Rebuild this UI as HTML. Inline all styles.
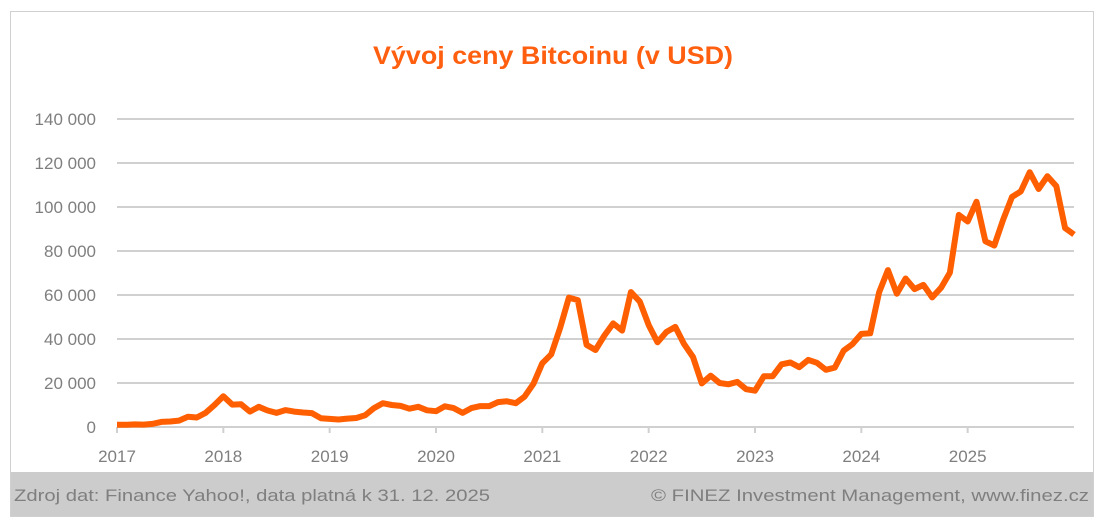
<!DOCTYPE html>
<html><head><meta charset="utf-8"><style>
html,body{margin:0;padding:0;background:#fff;}
svg{display:block;}
</style></head><body>
<svg id="s" width="1107" height="527" xmlns="http://www.w3.org/2000/svg" font-family="Liberation Sans, sans-serif">
<rect x="10.5" y="11.5" width="1083" height="505" fill="#fff" stroke="#d0d0d0"/>
<rect x="11" y="472" width="1082" height="44" fill="#cccccc"/>
<text x="553" y="64" text-anchor="middle" font-size="25" font-weight="bold" fill="#ff5f0f" textLength="360" lengthAdjust="spacingAndGlyphs">Vývoj ceny Bitcoinu (v USD)</text>
<g id="grid" stroke="#d0d0d0" stroke-width="2"></g>
<g id="yl" font-size="17" fill="#7f7f7f" text-anchor="end"></g>
<g id="xl" font-size="17" fill="#7f7f7f" text-anchor="middle"></g>
<polyline id="ln" fill="none" stroke="#ff5f00" stroke-width="6" stroke-linejoin="round" points=""/>
<text x="14" y="501" font-size="16.5" fill="#7f7f7f" textLength="476" lengthAdjust="spacingAndGlyphs">Zdroj dat: Finance Yahoo!, data platná k 31. 12. 2025</text>
<text x="1089" y="501" text-anchor="end" font-size="16.5" fill="#7f7f7f" textLength="438" lengthAdjust="spacingAndGlyphs">© FINEZ Investment Management, www.finez.cz</text>
</svg>
<script>
var NS="http://www.w3.org/2000/svg";
function el(p,t,a,txt){var e=document.createElementNS(NS,t);for(var k in a)e.setAttribute(k,a[k]);if(txt!==undefined)e.textContent=txt;document.getElementById(p).appendChild(e);}
var x0=117,x1=1074,y0=427,ppk=2.2;
for(var v=0;v<=140;v+=20){var y=y0-v*ppk;
 if(v>0)el("grid","line",{x1:x0,x2:x1,y1:y,y2:y});
 el("yl","text",{x:96,y:y+6},v==0?"0":v+" 000");}
el("grid","line",{x1:x0,x2:x1,y1:y0,y2:y0});
var yw=(x1-x0)/9;
for(var i=0;i<9;i++){var x=x0+i*yw;el("grid","line",{x1:x,x2:x,y1:y0,y2:y0+6});el("xl","text",{x:x,y:462},2017+i);}
var d=[1000,1000,1200,1100,1400,2300,2500,2900,4700,4300,6400,10000,14000,
10200,10300,7000,9200,7500,6400,7700,7000,6600,6300,4000,3700,
3400,3800,4100,5300,8600,10800,10000,9600,8300,9200,7600,7200,
9400,8600,6400,8600,9500,9500,11300,11700,10800,13800,19700,29000,
33000,45000,58800,57700,37300,35000,41600,47100,43800,61300,57000,46300,
38500,43200,45500,37700,31800,19800,23300,20000,19400,20500,17200,16500,
23100,23100,28500,29300,27200,30500,29200,26000,27000,34700,37700,42300,
42600,61200,71300,60600,67500,62700,64600,58900,63300,70200,96400,93400,
102400,84400,82500,94200,104600,107100,115800,108200,114000,109500,90400,87500];
var pts=d.map(function(v,i){return (x0+i*(x1-x0)/(d.length-1)).toFixed(1)+","+(y0-v/1000*ppk).toFixed(1);}).join(" ");
document.getElementById("ln").setAttribute("points",pts);
</script>
</body></html>
